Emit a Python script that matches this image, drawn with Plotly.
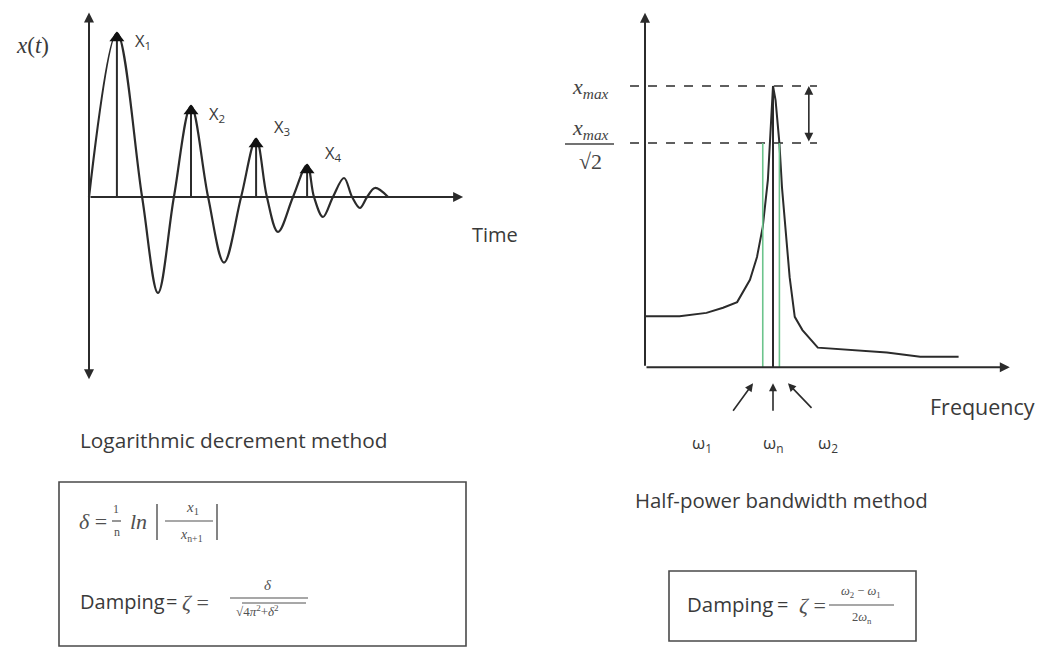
import math
import plotly.graph_objects as go

W, H = 1039, 648

# ---- free-decay record: time and displacement (normalised to first peak) ----
time_s = [0.0, 0.93, 1.77, 2.30, 2.83, 3.40, 3.97, 4.50, 5.07, 5.57, 5.93, 6.30,
          6.80, 7.27, 7.50, 7.80, 8.13, 8.50, 8.77, 9.03, 9.27, 9.53, 9.97]
displacement = [0.0, 1.0, 0.0, -0.585, 0.0, 0.555, 0.0, -0.40, 0.0, 0.354, 0.0, -0.213,
                0.0, 0.195, 0.0, -0.122, 0.0, 0.116, 0.0, -0.067, 0.0, 0.055, 0.0]
peak_time = [0.93, 3.40, 5.57, 7.27]
peak_amp = [1.0, 0.555, 0.354, 0.195]
peak_names = ["X<sub>1</sub>", "X<sub>2</sub>", "X<sub>3</sub>", "X<sub>4</sub>"]

# ---- frequency response: frequency ratio and amplitude (normalised to x_max) ----
freq_ratio = [0.0, 0.27, 0.48, 0.61, 0.72, 0.82, 0.875, 0.92, 0.96, 0.98, 1.0,
              1.02, 1.05, 1.07, 1.10, 1.13, 1.17, 1.23, 1.35, 1.63, 1.89, 2.15, 2.45]
response = [0.247, 0.247, 0.252, 0.260, 0.269, 0.308, 0.354, 0.425, 0.565, 0.751, 1.0,
            0.918, 0.707, 0.541, 0.409, 0.313, 0.246, 0.227, 0.204, 0.201, 0.198, 0.193, 0.193]
x_max = 1.0
x_half = x_max / math.sqrt(2)
omega_1, omega_n, omega_2 = 0.92, 1.00, 1.05
freq_baseline = 0.181          # amplitude level of the frequency axis
omega_names = ["ω<sub>1</sub>", "ω<sub>n</sub>", "ω<sub>2</sub>"]

# ---- panel geometry (pixels) ----
L_ORIGIN = (89, 197); L_TPX = 30.0; L_APX = 164.0
R_ORIGIN_X = 645; R_FPX = 128.0; R_MAX_Y = 86; R_DECADE = 379.0
SPLIT = W / 2.0

INK = "#2b2b2b"
TXT = "#3a3a3a"
SANS = "'Open Sans', 'DejaVu Sans', sans-serif"
SERIF = "'Liberation Serif', 'DejaVu Serif', serif"


def px(x):
    return x / W


def py(y):
    return 1 - y / H


fig = go.Figure()

# damped oscillation
fig.add_trace(go.Scatter(x=time_s, y=displacement, mode="lines",
                         line=dict(color=INK, width=2.2, shape="spline", smoothing=1.0),
                         xaxis="x", yaxis="y", hoverinfo="skip"))
# stems under the marked peaks
sx, sy = [], []
for t, a in zip(peak_time, peak_amp):
    sx += [t, t, None]
    sy += [0, a, None]
fig.add_trace(go.Scatter(x=sx, y=sy, mode="lines", line=dict(color=INK, width=2),
                         xaxis="x", yaxis="y", hoverinfo="skip"))
fig.add_trace(go.Scatter(x=peak_time, y=[a - 5 / L_APX for a in peak_amp], mode="markers",
                         marker=dict(symbol="triangle-up", size=13, color="#111"),
                         xaxis="x", yaxis="y", hoverinfo="skip"))

# frequency response curve
fig.add_trace(go.Scatter(x=freq_ratio, y=response, mode="lines",
                         line=dict(color=INK, width=2), xaxis="x2", yaxis="y2", hoverinfo="skip"))
# x_max and half-power levels
for lvl in (x_max, x_half):
    fig.add_trace(go.Scatter(x=[-0.117, 1.344], y=[lvl, lvl], mode="lines",
                             line=dict(color=INK, width=1.6, dash="dash"),
                             xaxis="x2", yaxis="y2", hoverinfo="skip"))
# half-power frequencies
for w in (omega_1, omega_2):
    fig.add_trace(go.Scatter(x=[w, w], y=[freq_baseline, x_half], mode="lines",
                             line=dict(color="#6cc48c", width=1.6),
                             xaxis="x2", yaxis="y2", hoverinfo="skip"))
fig.add_trace(go.Scatter(x=[omega_n, omega_n], y=[freq_baseline, x_max], mode="lines",
                         line=dict(color=INK, width=2), xaxis="x2", yaxis="y2", hoverinfo="skip"))

ann = []


def arrow(xref, yref, head, tail, both=False, width=2, size=1.0):
    ann.append(dict(x=head[0], y=head[1], ax=tail[0], ay=tail[1], xref=xref, yref=yref,
                    axref=xref, ayref=yref, text="", showarrow=True, arrowhead=2,
                    arrowsize=size, arrowwidth=width, arrowcolor=INK,
                    arrowside="end+start" if both else "end"))


def txt(x, y, text, size, family=SANS, color=TXT, xanchor="center", yanchor="middle"):
    ann.append(dict(x=px(x), y=py(y), xref="paper", yref="paper", text=text, showarrow=False,
                    font=dict(size=size, family=family, color=color),
                    xanchor=xanchor, yanchor=yanchor))


# left panel axes
arrow("x", "y", (0, 1.125), (0, -1.12), both=True)
arrow("x", "y", (12.47, 0), (0, 0))
for t, a, name in zip(peak_time, peak_amp, peak_names):
    ann.append(dict(x=t, y=a, xref="x", yref="y", text=name, showarrow=False,
                    xshift=26, yshift=-8 if a > 0.5 else 12,
                    font=dict(size=16.5, family=SANS, color=TXT)))

# right panel axes (log amplitude axis -> annotation coords in log10)
lb = math.log10(freq_baseline)
arrow("x2", "y2", (0, math.log10(1.56)), (0, lb))
arrow("x2", "y2", (2.85, lb), (0, lb))
arrow("x2", "y2", (1.28, math.log10(x_max)), (1.28, math.log10(x_half)), both=True, width=1.6, size=1.1)

for w, name, tail, lx in zip((0.844, omega_n, 1.117), omega_names,
                             ((-21, 29), (0, 29), (25, 26)), (0.445, 1.0, 1.43)):
    ann.append(dict(x=w, y=lb, xref="x2", yref="y2", ax=tail[0], ay=tail[1], text="",
                    showarrow=True, arrowhead=2, arrowsize=1, arrowwidth=1.6,
                    arrowcolor=INK, yshift=-16))
    ann.append(dict(x=lx, y=lb, xref="x2", yref="y2", text=name, showarrow=False,
                    yshift=-76, font=dict(size=17, family=SANS, color=TXT)))

# axis titles
txt(32, 46, "<i>x</i>(<i>t</i>)", 23, SERIF)
txt(495, 234, "Time", 20)
txt(982, 406, "Frequency", 21.5)
txt(590, 88, "<i>x<sub>max</sub></i>", 22, SERIF, "#444")
txt(590, 129, "<i>x<sub>max</sub></i>", 22, SERIF, "#444")
txt(590, 161, "√2", 22, SERIF, "#444")

# method captions
txt(78, 440, "Logarithmic decrement method", 20.8, xanchor="left")
txt(633, 500, "Half-power bandwidth method", 20.4, xanchor="left")

FORM = "#505050"
# logarithmic decrement formula
txt(77, 521, "<i>δ</i> =", 22, SERIF, FORM, xanchor="left")
txt(116, 509, "1", 12, SERIF, FORM)
txt(117, 532, "n", 12, SERIF, FORM)
txt(128, 521, "<i>ln</i>", 22, SERIF, FORM, xanchor="left")
txt(192, 508, "<i>x</i><sub>1</sub>", 15, SERIF, FORM)
txt(191, 535, "<i>x</i><sub>n+1</sub>", 14, SERIF, FORM)
txt(78, 601, "Damping", 20, xanchor="left")
txt(171, 601, "=", 20)
txt(180, 602, "<i>ζ</i> =", 22, SERIF, FORM, xanchor="left")
txt(268, 585, "<i>δ</i>", 15, SERIF, FORM)
txt(234, 611, "√4<i>π</i><sup>2</sup>+<i>δ</i><sup>2</sup>", 13, SERIF, FORM, xanchor="left")

# half-power formula
txt(685, 604, "Damping", 20.4, xanchor="left")
txt(782, 604, "=", 20)
txt(797, 605, "<i>ζ</i> =", 22, SERIF, FORM, xanchor="left")
txt(861, 592, "<i>ω</i><sub>2</sub> − <i>ω</i><sub>1</sub>", 12.5, SERIF, FORM)
txt(862, 618, "2<i>ω</i><sub>n</sub>", 12.5, SERIF, FORM)

shapes = []


def seg(x0, y0, x1, y1, width=1.2, color=FORM):
    shapes.append(dict(type="line", xref="paper", yref="paper", x0=px(x0), y0=py(y0),
                       x1=px(x1), y1=py(y1), line=dict(color=color, width=width)))


seg(565, 144, 614, 144, 1.6, "#444")       # x_max / sqrt(2) bar
seg(112, 521, 121, 521)                    # 1/n
seg(157, 504, 157, 540, 1.4)               # |
seg(217, 504, 217, 540, 1.4)
seg(165, 521, 213, 521)                    # x1 / x_{n+1}
seg(230, 598, 308, 598)                    # delta / sqrt(...)
seg(242, 603, 306, 603, 1.0)               # radical bar
seg(829, 605, 894, 605)                    # (w2 - w1) / 2 wn

for x0, y0, x1, y1 in ((59, 482, 466, 646), (669, 571, 916, 641)):
    shapes.append(dict(type="rect", xref="paper", yref="paper", x0=px(x0), y0=py(y1),
                       x1=px(x1), y1=py(y0), line=dict(color="#4a4a4a", width=1.6)))

ax_hidden = dict(visible=False, showgrid=False, zeroline=False, fixedrange=True)
fig.update_layout(
    width=W, height=H, margin=dict(l=0, r=0, t=0, b=0),
    paper_bgcolor="white", plot_bgcolor="white", showlegend=False,
    xaxis=dict(domain=[0, 0.5], range=[-L_ORIGIN[0] / L_TPX, (SPLIT - L_ORIGIN[0]) / L_TPX], **ax_hidden),
    yaxis=dict(domain=[0, 1], range=[(L_ORIGIN[1] - H) / L_APX, L_ORIGIN[1] / L_APX], **ax_hidden),
    xaxis2=dict(domain=[0.5, 1], anchor="y2",
                range=[(SPLIT - R_ORIGIN_X) / R_FPX, (W - R_ORIGIN_X) / R_FPX], **ax_hidden),
    yaxis2=dict(domain=[0, 1], anchor="x2", type="log",
                range=[math.log10(x_max) + (R_MAX_Y - H) / R_DECADE,
                       math.log10(x_max) + R_MAX_Y / R_DECADE], **ax_hidden),
    annotations=ann, shapes=shapes,
)

fig.write_html("out.html")
